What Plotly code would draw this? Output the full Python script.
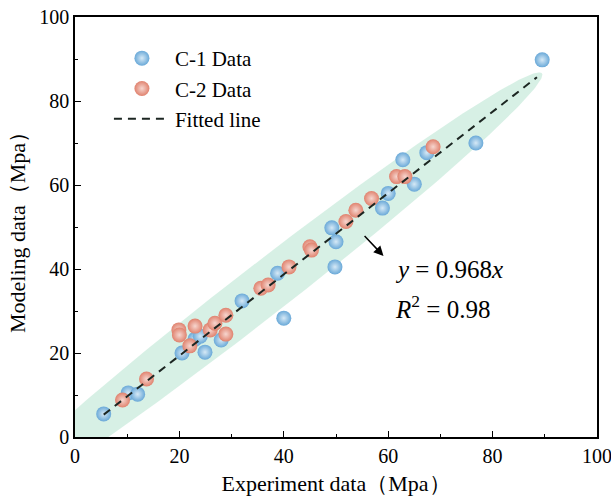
import numpy as np
import plotly.graph_objects as go

# ---- data ----
c1_x = [5.5, 10.2, 12.0, 20.5, 23.0, 24.0, 24.9, 28.0, 32.0, 38.8, 40.0, 49.8, 50.0, 49.2,
        58.9, 60.0, 65.0, 62.8, 67.4, 76.8, 89.5]
c1_y = [5.5, 10.5, 10.2, 20.0, 23.3, 24.0, 20.2, 23.1, 32.4, 39.0, 28.3, 40.5, 46.5, 49.8,
        54.5, 58.0, 60.2, 66.0, 67.7, 70.0, 89.8]
c2_x = [9.1, 13.7, 19.9, 20.0, 23.0, 22.0, 25.9, 26.8, 28.9, 28.9, 35.6, 37.0, 41.0,
        45.0, 45.3, 51.9, 53.8, 56.8, 61.6, 63.2, 68.6]
c2_y = [8.8, 13.8, 25.5, 24.3, 26.4, 21.7, 25.5, 27.1, 29.0, 24.5, 35.4, 36.2, 40.5,
        45.3, 44.5, 51.3, 54.0, 56.8, 62.0, 62.0, 69.1]
slope = 0.968
fit_x = [5.5, 88.5]
r2 = 0.98

# confidence ellipse parameters (data units)
ell_center = (35.0, 34.0)
ell_a = 75.7
ell_b = 5.6

x_ticks = [0, 20, 40, 60, 80, 100]
y_ticks = [0, 20, 40, 60, 80, 100]

FONT = "Liberation Serif"
BLUE = "#6aa9d8"
RED = "#e0826e"
BAND = "rgba(205,236,223,0.8)"

theta = np.arctan(slope)
t = np.linspace(0, 2 * np.pi, 300)
ex = ell_center[0] + ell_a * np.cos(t) * np.cos(theta) - ell_b * np.sin(t) * np.sin(theta)
ey = ell_center[1] + ell_a * np.cos(t) * np.sin(theta) + ell_b * np.sin(t) * np.cos(theta)

fig = go.Figure()
fig.add_trace(go.Scatter(x=ex, y=ey, mode="lines", fill="toself", fillcolor=BAND,
                         line=dict(width=0), hoverinfo="skip", showlegend=False))
fig.add_trace(go.Scatter(x=c1_x, y=c1_y, mode="markers", name="C-1 Data",
                         marker=dict(size=15, color=BLUE, line=dict(width=0),
                                     gradient=dict(type="radial", color="#d6e9f6"))))
fig.add_trace(go.Scatter(x=c2_x, y=c2_y, mode="markers", name="C-2 Data",
                         marker=dict(size=15, color=RED, line=dict(width=0),
                                     gradient=dict(type="radial", color="#f6d6cf"))))
fig.add_trace(go.Scatter(x=fit_x, y=[slope * v for v in fit_x], mode="lines", name="Fitted line",
                         line=dict(color="#1c2622", width=2, dash="8px,6px")))

fig.add_annotation(x=59.1, y=43.1, ax=54.9, ay=48.6, xref="x", yref="y", axref="x", ayref="y",
                   showarrow=True, arrowhead=2, arrowsize=1.3, arrowwidth=1.5, arrowcolor="black", text=" ")
fig.add_annotation(x=61.0, y=39.8, xref="x", yref="y", xanchor="left", yanchor="middle", showarrow=False,
                   text="<i>y</i> = 0.968<i>x</i>", font=dict(family=FONT, size=25, color="black"))
fig.add_annotation(x=61.0, y=31.0, xref="x", yref="y", xanchor="left", yanchor="middle", showarrow=False,
                   text="<i>R</i><sup>2</sup> = %.2f" % r2, font=dict(family=FONT, size=25, color="black"))

axis_common = dict(range=[0, 100], showgrid=False, zeroline=False, showline=True, linecolor="black",
                   linewidth=1.5, mirror=True, ticks="inside", ticklen=6, tickwidth=1.3, tickcolor="black",
                   tickfont=dict(family=FONT, size=20, color="black"), ticklabeloverflow="allow",
                   automargin=False,
                   minor=dict(ticks="inside", ticklen=3, tickwidth=1.2, tickcolor="black", dtick=10))
fig.update_xaxes(**axis_common, tickvals=x_ticks,
                 title=dict(text="Experiment data（Mpa）", font=dict(family=FONT, size=22, color="black"), standoff=10))
fig.update_yaxes(**axis_common, tickvals=y_ticks,
                 title=dict(text="Modeling data（Mpa）", font=dict(family=FONT, size=22, color="black"), standoff=8))

fig.update_layout(width=611, height=499, margin=dict(l=75, r=14, t=17, b=62),
                  plot_bgcolor="white", paper_bgcolor="white",
                  legend=dict(x=0.065, y=0.95, xanchor="left", yanchor="top", bgcolor="rgba(0,0,0,0)",
                              itemwidth=56,
                              font=dict(family=FONT, size=21, color="black"), tracegroupgap=0),
                  showlegend=True)

fig.write_html("out.html")
